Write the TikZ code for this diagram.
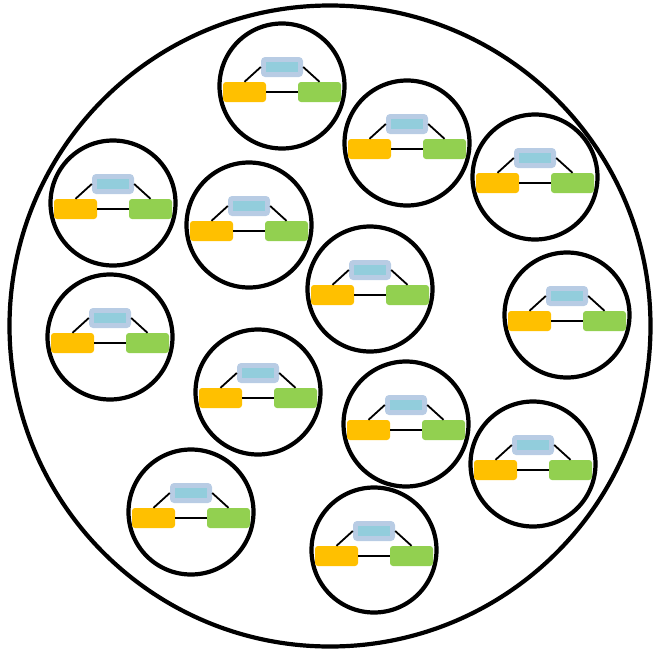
\documentclass[tikz,border=0pt]{standalone}
\usetikzlibrary{calc}
\definecolor{orangeC}{HTML}{FFC000}
\definecolor{greenC}{HTML}{92D050}
\definecolor{blueC}{HTML}{B8CCE4}
\definecolor{cyanC}{HTML}{92CDDC}
\begin{document}
\begin{tikzpicture}[x=1pt,y=-1pt,
  ring/.style={draw=black,line width=4.2pt,circle,inner sep=0pt,minimum size=125pt},
  bigring/.style={draw=black,line width=4.2pt,circle,inner sep=0pt,minimum size=641pt},
  obox/.style={fill=orangeC,rounded corners=3pt,minimum width=43pt,minimum height=20pt,inner sep=0pt},
  gbox/.style={fill=greenC,rounded corners=3pt,minimum width=43pt,minimum height=20pt,inner sep=0pt},
  bbox/.style={fill=blueC,rounded corners=4pt,minimum width=42pt,minimum height=20pt,inner sep=0pt},
  cbox/.style={fill=cyanC,minimum width=32pt,minimum height=10pt,inner sep=0pt},
  link/.style={draw=black,line width=1.8pt}]
\useasboundingbox (0,0) rectangle (656,651);
\node[bigring] (outer) at (330,326) {};
\foreach \n/\x/\y in {1/282/86, 2/407/143, 3/535/177, 4/113/203, 5/249/225, 6/370/289, 7/567/315, 8/110/337, 9/258/392, 10/406/424, 11/533/464, 12/191/512, 13/374/550} {
  \node[ring] (r\n) at (\x,\y) {};
  \node[bbox] (b\n) at ($(\x,\y)+(0,-19)$) {};
  \node[cbox] (c\n) at (b\n.center) {};
  \node[obox] (o\n) at ($(\x,\y)+(-37.5,6)$) {};
  \node[gbox] (g\n) at ($(\x,\y)+(37.5,6)$) {};
  \draw[link] (o\n.east) -- (g\n.west);
  \draw[link] (o\n.north) -- (b\n.west);
  \draw[link] (g\n.north) -- (b\n.east);
}
\end{tikzpicture}
\end{document}
